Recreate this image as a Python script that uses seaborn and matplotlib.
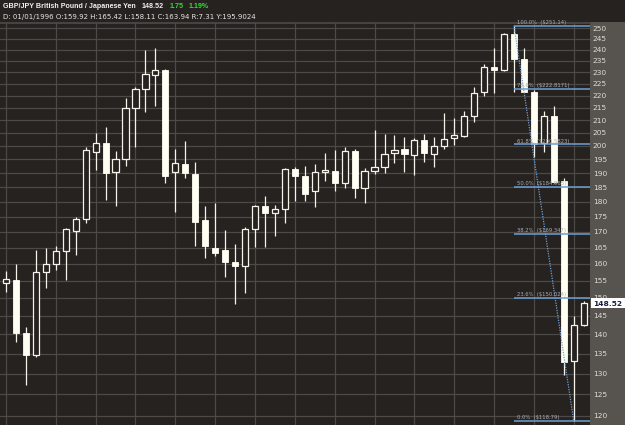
import numpy as np
import pandas as pd
import matplotlib
matplotlib.use("Agg")
import matplotlib.pyplot as plt
import matplotlib.transforms as mtransforms
from matplotlib.patches import Rectangle
from matplotlib.ticker import FixedLocator, NullLocator, FuncFormatter, NullFormatter
import seaborn as sns

# ---- quarterly OHLC data (GBP/JPY) ----
opens = [154.4, 155.3, 140.3, 134.7, 157.5, 159.92, 163.8, 170.4, 174.1, 197.8,
         201.0, 190.4, 195.1, 214.8, 222.9, 228.7, 230.9, 190.5, 193.2, 189.6,
         173.9, 164.8, 164.3, 160.7, 159.5, 170.8, 178.6, 176.3, 177.5, 191.5,
         189.1, 183.5, 190.5, 190.9, 186.4, 198.1, 184.8, 190.7, 192.1, 197.2,
         198.9, 196.7, 202.3, 196.9, 199.8, 202.9, 203.8, 211.6, 221.3, 232.1,
         230.9, 247.1, 235.9, 221.6, 201.1, 211.6, 187.1, 133.1, 142.6]
highs = [158.0, 160.0, 142.0, 164.3, 164.8, 165.42, 171.2, 175.0, 199.5, 205.0,
         207.2, 198.2, 219.1, 223.7, 239.8, 240.8, 231.2, 198.9, 201.9, 194.0,
         178.6, 179.5, 170.6, 166.2, 171.6, 178.7, 181.8, 178.7, 191.8, 192.1,
         192.6, 193.2, 197.2, 198.5, 199.5, 198.7, 191.9, 206.0, 204.7, 204.1,
         203.5, 202.9, 204.6, 203.3, 213.0, 210.9, 213.6, 223.7, 233.7, 240.9,
         247.5, 251.14, 240.9, 222.4, 213.8, 215.8, 188.1, 145.0, 149.2]
lows = [151.8, 137.9, 127.3, 134.2, 153.0, 158.11, 155.2, 162.8, 172.8, 191.1,
        180.4, 178.6, 192.6, 199.7, 213.4, 215.8, 186.4, 176.6, 188.4, 165.6,
        161.9, 162.5, 156.1, 148.2, 151.3, 165.3, 165.3, 168.7, 172.8, 180.3,
        180.3, 178.3, 187.3, 183.7, 184.8, 181.2, 179.6, 189.5, 189.9, 193.5,
        190.5, 189.3, 193.9, 192.3, 198.7, 200.5, 203.3, 209.1, 220.0, 220.9,
        230.5, 221.6, 221.3, 196.0, 197.7, 186.4, 129.7, 118.79, 142.3]
closes = [155.4, 140.3, 134.7, 157.6, 159.9, 163.94, 170.8, 174.1, 198.5, 201.0,
          190.1, 195.2, 214.8, 222.6, 229.1, 231.1, 188.8, 193.5, 189.9, 173.3,
          165.6, 163.2, 160.7, 159.5, 170.9, 178.5, 176.1, 177.6, 191.5, 189.0,
          182.5, 190.4, 191.0, 186.5, 198.1, 184.8, 190.9, 192.1, 196.9, 198.5,
          196.9, 202.3, 197.3, 200.1, 202.8, 204.2, 211.6, 220.9, 232.2, 231.0,
          247.1, 235.6, 221.6, 200.8, 211.6, 186.9, 133.0, 142.6, 148.52]

year_start_idx = [0, 5, 9, 13, 17, 21, 25, 29, 33, 37, 41, 45, 49, 53, 57]
y_ticks = list(range(120, 251, 5))

fib_high_idx, fib_low_idx = 51, 57
fib_high, fib_low = 251.14, 118.79
fib_pcts = [1.0, 0.786, 0.618, 0.5, 0.382, 0.236, 0.0]
fib_labels = ["100.0%  ($251.14)", "78.6%  ($222.8171)", "61.8%  ($200.5823)",
              "50.0%  ($184.965)", "38.2%  ($169.347)", "23.6%  ($150.024)",
              "0.0%  ($118.79)"]
last_price = 148.52

df = pd.DataFrame({"i": np.arange(len(opens)), "open": opens, "high": highs,
                   "low": lows, "close": closes})

BG = "#252220"
PANEL = "#57534e"
GRID = "#4c4946"
CANDLE = "#f4f4ea"
FIB = "#6f9fd6"

sns.set_theme(style="dark")
plt.rcParams["font.family"] = ["DejaVu Sans"]

fig = plt.figure(figsize=(6.25, 4.25), dpi=100, facecolor=BG)
W, H = 625, 425
ax = fig.add_axes([0, 0, 590 / W, 402 / H])
ax.set_facecolor(BG)
fig.patches.append(Rectangle((590 / W, 0), 35 / W, 403 / H, transform=fig.transFigure,
                             facecolor=PANEL, edgecolor="none", zorder=-5))

ax.set_yscale("log")
ax.set_ylim(117.95, 252.4)
ax.set_xlim(-0.602, 58.63)

# grid
ax.yaxis.set_major_locator(FixedLocator(y_ticks))
ax.yaxis.set_minor_locator(NullLocator())
ax.yaxis.set_major_formatter(FuncFormatter(lambda v, p: f"{v:.0f}"))
ax.yaxis.set_minor_formatter(NullFormatter())
ax.yaxis.tick_right()
ax.tick_params(axis="y", which="both", right=True, labelright=True, left=False,
               labelleft=False, length=0, pad=2, labelsize=5.4, labelcolor="#dedbd6")
ax.xaxis.set_major_locator(FixedLocator(year_start_idx))
ax.xaxis.set_major_formatter(NullFormatter())
ax.tick_params(axis="x", length=0)
ax.grid(True, color=GRID, lw=0.9)
for s in ax.spines.values():
    s.set_visible(False)
ax.spines["top"].set_visible(True)
ax.spines["top"].set_color(GRID)

# candles
ax.vlines(df["i"], df["low"], df["high"], color=CANDLE, lw=0.9, zorder=3)
up = df[df["close"] >= df["open"]]
dn = df[df["close"] < df["open"]]
bw = 0.62
ax.bar(up["i"], up["close"] - up["open"], bottom=up["open"], width=bw,
       facecolor=BG, edgecolor=CANDLE, lw=0.9, zorder=4)
ax.bar(dn["i"], dn["open"] - dn["close"], bottom=dn["close"], width=bw,
       facecolor="#fffff4", edgecolor="#fffff4", lw=0.6, zorder=4)

# fibonacci retracement
sns.lineplot(x=[fib_high_idx, fib_low_idx], y=[fib_high, fib_low], ax=ax,
             color=FIB, lw=0.9, linestyle=(0, (1, 1)), zorder=5)
for p, lab in zip(fib_pcts, fib_labels):
    lvl = fib_low + p * (fib_high - fib_low)
    ax.hlines(lvl, fib_high_idx, 58.63, color=FIB, lw=1.1, zorder=5)
    ax.annotate(lab, (fib_high_idx + 0.3, lvl), xytext=(0, 0.6), textcoords="offset points",
                fontsize=3.8, color="#aeaeae", va="bottom", ha="left", zorder=6)

# last price box
tr = mtransforms.blended_transform_factory(ax.transAxes, ax.transData)
ax.add_patch(Rectangle((1.0 + 1 / 590, last_price / 1.009), 40 / 590,
                       last_price * 1.009 - last_price / 1.009, transform=tr,
                       facecolor="white", edgecolor="none", clip_on=False, zorder=7))
ax.text(1.0 + 3 / 590, last_price * 0.999, f"{last_price:.2f}", transform=tr, fontsize=5.4,
        fontweight="bold", color="#1c1c44", va="center", ha="left", zorder=8, clip_on=False)

# header
def fx(px):
    return px / W
def fy(py):
    return 1 - py / H

HF = ["Liberation Sans", "DejaVu Sans"]
fig.text(fx(3), fy(7), "GBP/JPY British Pound / Japanese Yen", fontsize=5.1, family=HF,
         fontweight="bold", color="#f0f0f0", va="center", ha="left")
fig.text(fx(142), fy(7), "148.52", fontsize=5.1, family=HF, fontweight="bold", color="#f0f0f0",
         va="center", ha="left")
fig.text(fx(170), fy(7), "1.75", fontsize=5.1, family=HF, fontweight="bold", color="#2ee02e",
         va="center", ha="left")
fig.text(fx(189), fy(7), "1.19%", fontsize=5.1, family=HF, fontweight="bold", color="#2ee02e",
         va="center", ha="left")
fig.text(fx(3), fy(17), "D: 01/01/1996 O:159.92 H:165.42 L:158.11 C:163.94 R:7.31 Y:195.9024",
         fontsize=5.0, color="#e6e6e6", va="center", ha="left")

fig.savefig("out.png", dpi=100, facecolor=BG)
